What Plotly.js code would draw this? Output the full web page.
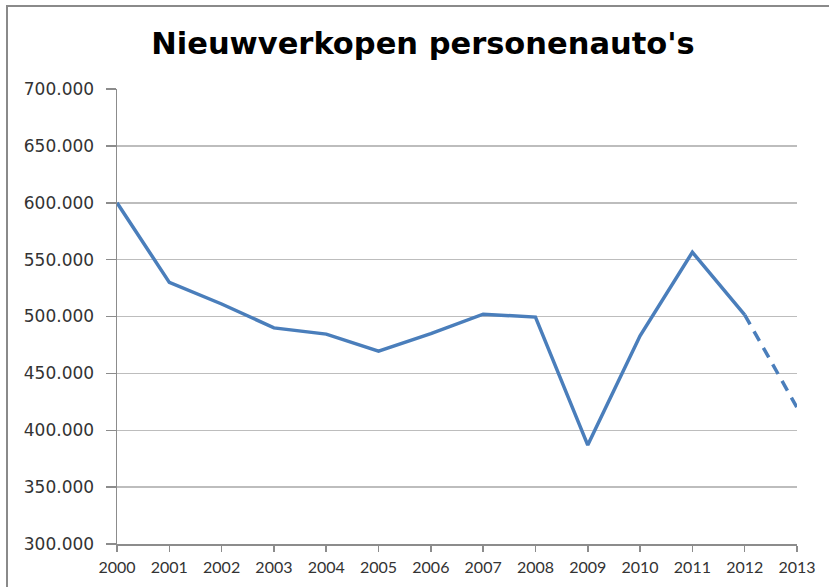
<!DOCTYPE html>
<html>
<head>
<meta charset="utf-8">
<script src="https://cdn.plot.ly/plotly-3.0.1.min.js"></script>
<style>
  html, body { margin: 0; padding: 0; background: #ffffff; }
  #wrap { position: relative; width: 829px; height: 587px; overflow: hidden; }
  #frame { position: absolute; left: 6px; top: 5px; width: 840px; height: 600px;
           border-top: 2px solid #8a8a8a; border-left: 2px solid #8a8a8a; pointer-events: none; }
  #chart { position: absolute; left: 0; top: 0; width: 829px; height: 587px; }
</style>
</head>
<body>
<div id="wrap">
  <div id="chart"></div>
  <div id="frame"></div>
</div>
<script>
const years = [2000, 2001, 2002, 2003, 2004, 2005, 2006, 2007, 2008, 2009, 2010, 2011, 2012, 2013];
const sales = [600000, 530000, 511000, 490000, 484500, 469500, 485000, 502000, 499500, 387000, 483000, 556500, 501500, 420000];
const yTicks = [300000, 350000, 400000, 450000, 500000, 550000, 600000, 650000, 700000];
const titleText = "Nieuwverkopen personenauto's";

const lineColor = '#4a7ebb';
const solidYears = years.slice(0, years.length - 1);
const solidSales = sales.slice(0, sales.length - 1);
const dashYears = years.slice(years.length - 2);
const dashSales = sales.slice(sales.length - 2);

const traces = [
  { x: solidYears, y: solidSales, type: 'scatter', mode: 'lines',
    line: { color: lineColor, width: 3.5 }, hoverinfo: 'x+y' },
  { x: dashYears, y: dashSales, type: 'scatter', mode: 'lines',
    line: { color: lineColor, width: 3.5, dash: '11px,8px' }, hoverinfo: 'x+y' }
];

const layout = {
  width: 829, height: 587,
  margin: { l: 117, r: 32, t: 89, b: 43, pad: 0 },
  paper_bgcolor: 'rgba(0,0,0,0)', plot_bgcolor: '#ffffff',
  separators: ',.',
  showlegend: false,
  title: { text: '<b>' + titleText + '</b>', x: 423 / 829, xanchor: 'center',
           y: 1 - 43 / 587, yanchor: 'middle', yref: 'container',
           font: { family: 'DejaVu Sans', size: 30.5, color: '#000000' } },
  xaxis: {
    range: [2000, 2013], tickmode: 'array', tickvals: years, ticktext: years.map(String),
    showgrid: false, zeroline: false,
    showline: true, linecolor: '#8c8c8c', linewidth: 1.5,
    ticks: 'outside', ticklen: 6, tickcolor: '#8c8c8c', tickwidth: 1.5,
    ticklabelstandoff: 2,
    tickfont: { family: 'Lato, Liberation Sans', size: 16, color: '#333333' },
    fixedrange: true
  },
  yaxis: {
    range: [300000, 700000], tickmode: 'array', tickvals: yTicks,
    tickformat: ',.0f',
    showgrid: true, gridcolor: '#bdbdbd', gridwidth: 1.5, zeroline: false,
    showline: true, linecolor: '#8c8c8c', linewidth: 1.5,
    ticks: 'outside', ticklen: 10, tickcolor: '#8c8c8c', tickwidth: 1.5,
    ticklabelstandoff: 8,
    tickfont: { family: 'DejaVu Sans', size: 17, color: '#333333' },
    fixedrange: true
  }
};

Plotly.newPlot('chart', traces, layout, { displayModeBar: false, staticPlot: true });
</script>
</body>
</html>
